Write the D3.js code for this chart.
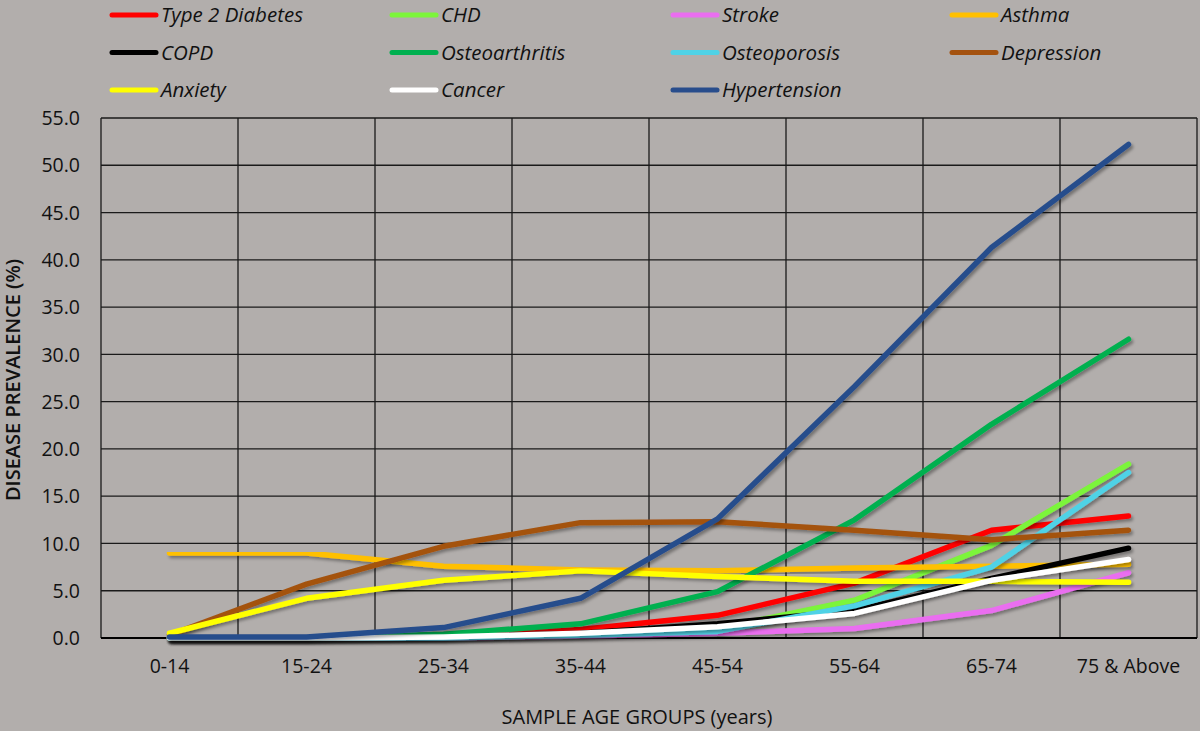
<!DOCTYPE html>
<html>
<head>
<meta charset="utf-8">
<script src="https://cdn.jsdelivr.net/npm/d3@7"></script>
<style>
  html, body { margin: 0; padding: 0; background: #b2aeac; }
  svg { display: block; }
  text { font-family: "Open Sans", sans-serif; fill: #111; }
</style>
</head>
<body>
<svg id="chart" width="1200" height="731"></svg>
<script>
const categories = ["0-14", "15-24", "25-34", "35-44", "45-54", "55-64", "65-74", "75 & Above"];
const seriesNames = ["Type 2 Diabetes", "CHD", "Stroke", "Asthma", "COPD", "Osteoarthritis", "Osteoporosis", "Depression", "Anxiety", "Cancer", "Hypertension"];
const seriesColors = ["#ff0000", "#7cf53a", "#ea6ef0", "#ffc000", "#000000", "#00b050", "#4fd2e6", "#a4520f", "#ffff00", "#ffffff", "#284d8c"];
const type2Diabetes = [0, 0, 0.2, 0.9, 2.4, 5.8, 11.4, 12.9];
const chd = [0, 0, 0.1, 0.4, 1.0, 4.0, 9.8, 18.4];
const stroke = [0, 0, 0, 0.2, 0.5, 1.0, 2.9, 6.9];
const asthma = [9.0, 9.0, 7.6, 7.2, 7.1, 7.4, 7.6, 7.8];
const copd = [0, 0, 0.1, 0.5, 1.5, 2.9, 6.3, 9.5];
const osteoarthritis = [0, 0, 0.4, 1.5, 4.9, 12.5, 22.6, 31.6];
const osteoporosis = [0, 0, 0, 0.3, 0.7, 3.4, 7.5, 17.5];
const depression = [0.3, 5.7, 9.7, 12.2, 12.3, 11.4, 10.4, 11.4];
const anxiety = [0.5, 4.2, 6.1, 7.1, 6.5, 6.0, 6.0, 5.9];
const cancer = [0, 0, 0.1, 0.5, 1.2, 2.6, 6.1, 8.3];
const hypertension = [0.1, 0.1, 1.1, 4.2, 12.6, 26.6, 41.3, 52.2];
const seriesValues = [type2Diabetes, chd, stroke, asthma, copd, osteoarthritis, osteoporosis, depression, anxiety, cancer, hypertension];
const yTicks = [0, 5, 10, 15, 20, 25, 30, 35, 40, 45, 50, 55];

const svg = d3.select("#chart");
const W = 1200, H = 731;
svg.append("rect").attr("width", W).attr("height", H).attr("fill", "#b2aeac");

const plot = { left: 101, right: 1197, top: 118, bottom: 638 };
const x = d3.scaleBand().domain(categories).range([plot.left, plot.right]).padding(0);
const y = d3.scaleLinear().domain([0, 55]).range([plot.bottom, plot.top]);
const cx = d => x(d) + x.bandwidth() / 2;

const defs = svg.append("defs");
const f = defs.append("filter").attr("id", "shadow").attr("x", "-5%").attr("y", "-5%").attr("width", "110%").attr("height", "120%");
f.append("feDropShadow").attr("dx", 2).attr("dy", 2.5).attr("stdDeviation", 1.6)
  .attr("flood-color", "#000").attr("flood-opacity", 0.35);

// gridlines
const grid = svg.append("g");
grid.selectAll("line.h").data(yTicks.filter(t => t > 0)).join("line")
  .attr("x1", plot.left).attr("x2", plot.right)
  .attr("y1", d => y(d)).attr("y2", d => y(d))
  .attr("stroke", "#1a1a1a").attr("stroke-width", 1.3);
const vEdges = categories.map(c => x(c)).concat([plot.right]);
grid.selectAll("line.v").data(vEdges).join("line")
  .attr("x1", d => d).attr("x2", d => d)
  .attr("y1", plot.top).attr("y2", plot.bottom)
  .attr("stroke", "#1a1a1a").attr("stroke-width", 1.3);
grid.append("line").attr("x1", plot.left).attr("x2", plot.right)
  .attr("y1", y(0)).attr("y2", y(0)).attr("stroke", "#000").attr("stroke-width", 2);

// y axis labels
const yAxis = svg.append("g").attr("transform", `translate(${plot.left - 21},0)`)
  .call(d3.axisLeft(y).tickValues(yTicks).tickFormat(d3.format(".1f")).tickSize(0).tickPadding(0));
yAxis.select(".domain").remove();
yAxis.selectAll("text").style("font-family", "'Open Sans', sans-serif").style("font-size", "19.5px")
  .attr("fill", "#111").attr("dy", "0.34em");

// x axis labels
const xAxis = svg.append("g").attr("transform", `translate(0,${plot.bottom + 20})`)
  .call(d3.axisBottom(x).tickSize(0).tickPadding(0));
xAxis.select(".domain").remove();
xAxis.selectAll("text").style("font-family", "'Open Sans', sans-serif").style("font-size", "19.5px")
  .attr("fill", "#111").attr("dy", "0.75em");

// axis titles
svg.append("text").attr("x", 637).attr("y", 724).attr("text-anchor", "middle")
  .style("font-size", "20px").text("SAMPLE AGE GROUPS (years)");
svg.append("text").attr("transform", "translate(20,380) rotate(-90)").attr("text-anchor", "middle")
  .style("font-size", "20px").style("font-weight", 600).text("DISEASE PREVALENCE (%)");

// lines
const line = d3.line().x((d, i) => cx(categories[i])).y(d => y(d));
const lines = svg.append("g");
seriesNames.forEach((name, k) => {
  lines.append("path").datum(seriesValues[k])
    .attr("d", line)
    .attr("fill", "none")
    .attr("stroke", seriesColors[k])
    .attr("stroke-width", 5.5)
    .attr("stroke-linecap", "round")
    .attr("stroke-linejoin", "round")
    .attr("filter", "url(#shadow)");
});

// legend
const legendCols = [110, 390, 671, 950];
const legendRows = [15, 52.5, 90];
const legend = svg.append("g");
seriesNames.forEach((name, k) => {
  const col = k % 4, row = Math.floor(k / 4);
  const lx = legendCols[col], ly = legendRows[row];
  legend.append("line").attr("x1", lx + 2).attr("x2", lx + 46).attr("y1", ly).attr("y2", ly)
    .attr("stroke", seriesColors[k]).attr("stroke-width", 5).attr("stroke-linecap", "round");
  legend.append("text").attr("x", lx + 51).attr("y", ly + 7)
    .style("font-size", "20.5px").style("font-style", "italic").text(name);
});
</script>
</body>
</html>
